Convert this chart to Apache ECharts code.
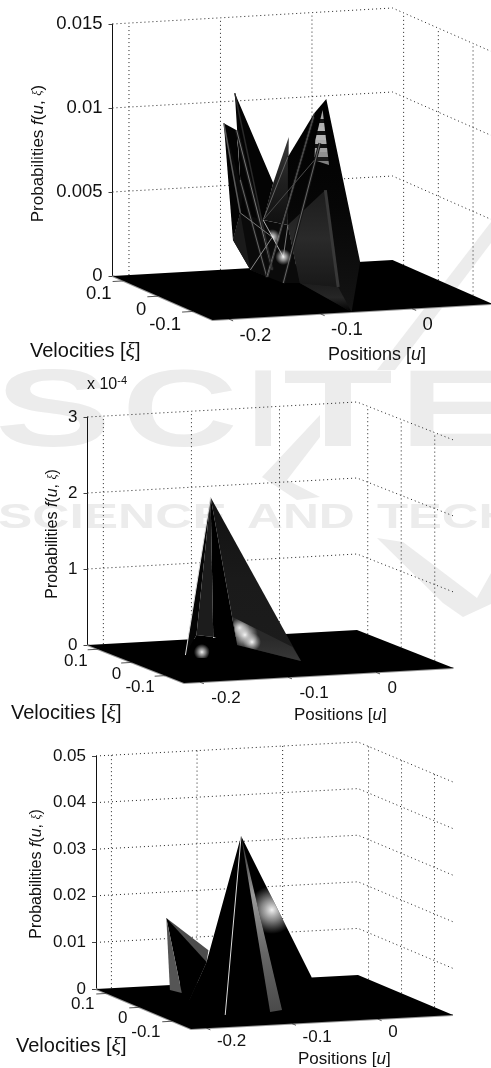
<!DOCTYPE html>
<html>
<head>
<meta charset="utf-8">
<style>html,body{margin:0;padding:0;background:#fff}#c{width:491px;height:1068px}</style>
<script src="https://cdn.jsdelivr.net/npm/echarts@6/dist/echarts.min.js"></script>
</head>
<body>
<div id="c"></div>
<script>
// ---------- data: [u, xi, f] ----------
var uRange = [-0.218, 0.088];
var xiRange = [-0.156, 0.132];
var uTicks = [-0.2, -0.1, 0];
var xiTicks = [0.1, 0, -0.1];
var fMaxes = [0.015, 0.0003, 0.05];
var fSteps = [0.005, 0.0001, 0.01];

var p1Points = [
  [-.139,-.012,.01195],[-.151,-.012,.0102],[-.039,-.012,.01129],[-.052,-.012,.01049],
  [-.080,-.012,.00915],[-.097,-.012,.00647],[-.130,-.012,.00597],[-.133,-.012,.0048],
  [-.141,-.012,.00321],[-.122,-.012,.00137],[-.103,-.012,.00089],[-.086,-.012,.00048],
  [-.002,-.012,.00147],[-.066,-.156,0],[-.046,-.012,.00869],[-.040,-.012,.00587],
  [-.026,-.012,.00006],[-.081,-.012,.00796],[-.108,-.012,.0043],[-.137,-.012,.00974],
  [-.098,-.012,.00129],[-.133,-.012,.00676],[-.104,-.012,.00089],[-.053,-.012,.01026],
  [-.043,-.012,.01064],[-.036,-.012,.00735],[-.052,-.012,.00769],[-.051,-.012,.00888],
  [-.068,-.012,.00042],[-.081,-.012,.00392],[-.098,-.012,.00325],[-.086,-.012,.00203]
];
var p2Points = [
  [-.133,-.012,.000214],[-.046,-.053,0],[-.069,.077,0],[-.146,.029,0],
  [-.127,.046,.0000222],[-.130,-.012,.0000299],[-.131,.001,0],[-.146,.007,0],
  [-.097,.017,.0000489],[-.040,-.012,.0000109],[-.083,.017,.0000245],[-.122,.043,0],
  [-.089,.017,.0000341],[-.075,.017,.0000147]
];
var p3Points = [
  [-.104,-.012,.036],[.034,.132,0],[-.077,-.066,0],[-.094,-.074,0],
  [-.148,-.078,0],[-.148,.030,0],[-.139,.077,0],[-.144,.100,0],
  [-.147,.103,.0154],[-.109,.074,.009],[-.122,.046,.0074],[-.068,-.012,.0198]
];
var p1Faces = [[4,29,18,5],[1,19,21,7,8],[0,5,9,8,7,21],[1,6,7],[7,8,9,10,30],[18,29,28,11,10,9,7],[2,12,13,28,29,17,3],[24,25,26,27],[15,16,28,29],[28,16,13]];
var p2Faces = [[0,1,2],[0,2,5],[0,3,4],[0,4,5],[3,4,5,6,7],[8,9,1,2]];
var p3Faces = [[8,9,10,5],[8,10,5,6],[8,6,7],[0,1,2,3,4,5,10],[0,3,2]];
var p1Edges = [[15,16],[19,20],[19,20],[21,22],[21,22],[23,22],[23,22],[14,11],[14,11],[17,18],[0,20],[18,31],[9,30],[7,30],[3,10],[1,7],[29,31],[26,18]];
var p2Edges = [[0,3]];
var p3Edges = [[0,4]];
var p1Glows = [[18,29,31,30],[30,29,28,11,10]];
var p2Glows = [[8,9,1,2],[8,9,1,2],[8,9,1,2],[3,4,5,6,7]];
var p3Glows = [[0,1,2]];
var p1GlowCentres = [30,31];
var p2GlowCentres = [12,10,13,11];
var p3GlowCentres = [11];

// ---------- styles ----------
var stripes = [];
(function(){ var c=['#a0a0a0','#a8a8a8','#141414','#b0b0b0','#b4b4b4','#111','#b4b4b4','#aaa','#111','#a0a0a0','#909090','#1a1a1a','#808080'];
  c.forEach(function(col,i){ stripes.push({offset:i/c.length,color:col}); stripes.push({offset:(i+1)/c.length,color:col}); }); })();
function vgrad(a){ return new echarts.graphic.LinearGradient(0,0,0,1,a.map(function(c,i){return {offset:i/(a.length-1),color:c};})); }
var p1Fills = [vgrad(['#3a3a3a','#202020','#101010']),'#030303','#040404','#0a0a0a','#1a1a1a','#0a0a0a',vgrad(['#000','#060606','#141414']),new echarts.graphic.LinearGradient(0,0,0,1,stripes),vgrad(['#1c1c1c','#2a2a2a','#181818']),vgrad(['#1c1c1c','#262626','#000'])];
var p2Fills = [vgrad(['#111','#1a1a1a','#1c1c1c']),'#000','#050505','#1c1c1c','#000',vgrad(['#2a2a2a','#2a2a2a','#383838'])];
var p3Fills = ['#4c4c4c','#000','#555','#000',vgrad(['#222','#9a9a9a','#666','#4a4a4a'])];
var p1EdgeStyles = [['#383838',3],['#161616',3.5],['#777',1],['#161616',3],['#666',1],['#161616',3],['#808080',0.8],['#161616',3],['#666',1],['#666',1],['#2a2a2a',1.5],['#aaa',1],['#888',1],['#777',1],['#444',1],['#5a5a5a',1.5],['#777',1],['#4a4a4a',1]];
var p2EdgeStyles = [['#ddd',1]];
var p3EdgeStyles = [['#ddd',1]];
var p1GlowR = [8,8], p2GlowR = [10,13,9,8], p3GlowR = [24];

var panels = [
 {grid:[112.5,24,280,252], v:[100,44], rise:-16, pts:p1Points, faces:p1Faces, fills:p1Fills, edges:p1Edges, eStyles:p1EdgeStyles, glows:p1Glows, gc:p1GlowCentres, gr:p1GlowR, font:18.5, uOff:[10.5,16.5], xiOff:[-12,13.5]},
 {grid:[87.5,417,269.5,228], v:[96.5,38], rise:-15, pts:p2Points, faces:p2Faces, fills:p2Fills, edges:p2Edges, eStyles:p2EdgeStyles, glows:p2Glows, gc:p2GlowCentres, gr:p2GlowR, font:17, uOff:[11.5,15.7], xiOff:[-10.5,12], fmt:function(v){return String(Math.round(v*1e4));}},
 {grid:[96,756,262,233], v:[95,40], rise:-14, pts:p3Points, faces:p3Faces, fills:p3Fills, edges:p3Edges, eStyles:p3EdgeStyles, glows:p3Glows, gc:p3GlowCentres, gr:p3GlowR, font:17, uOff:[10.5,13.5], xiOff:[-12,11]}
];
var FONT = '"Liberation Sans", Arial, sans-serif';
var uMin=uRange[0],uMax=uRange[1],xMin=xiRange[0],xMax=xiRange[1];

// skewed oblique projection of (u, xi, f) onto the panel's two axes
function toAxes(p,i,q){
  var g=p.grid,s=(q[0]-uMin)/(uMax-uMin),t=(xMax-q[1])/(xMax-xMin),fm=fMaxes[i];
  return [q[0]+p.v[0]*t/g[2]*(uMax-uMin), q[2]-fm*(p.rise*s+p.v[1]*t)/g[3]];
}
function custom(i,name,z,count,fn){
  return {type:'custom',name:name,xAxisIndex:i,yAxisIndex:i,z:z,silent:true,coordinateSystem:'cartesian2d',
    data:Array.apply(null,Array(count)).map(function(_,k){return [k];}),
    encode:{x:[],y:[]},
    renderItem:function(params,api){ return fn(params.dataIndex,api); }};
}
function poly(api,p,i,list){ return list.map(function(q){ return api.coord(toAxes(p,i,q)); }); }
function seg(a,style){ return {type:'line',shape:{x1:a[0][0],y1:a[0][1],x2:a[1][0],y2:a[1][1]},style:style}; }

var grids=[],xAxes=[],yAxes=[],series=[];
panels.forEach(function(p,i){
  grids.push({left:p.grid[0],top:p.grid[1],width:p.grid[2],height:p.grid[3],containLabel:false});
  xAxes.push({gridIndex:i,type:'value',min:uMin,max:uMax,show:false});
  yAxes.push({gridIndex:i,type:'value',min:0,max:fMaxes[i],interval:fSteps[i],
    axisLine:{show:true,onZero:false,lineStyle:{color:'#111',width:1}},
    axisTick:{show:true,length:4,lineStyle:{color:'#444'}},
    splitLine:{show:false},
    axisLabel:{show:true,margin:10,fontFamily:FONT,fontSize:p.font,color:'#111',padding:[0,0,5,0],
      formatter:p.fmt||function(v){return String(parseFloat(v.toFixed(4)));}}});

  // dotted back walls
  var zLevels=[]; for(var k=0;k<=Math.round(fMaxes[i]/fSteps[i]);k++) zLevels.push(k*fSteps[i]);
  var wallLines=[];
  zLevels.forEach(function(z){ if(z>0) wallLines.push([[uMin,xMax,z],[uMax,xMax,z],[uMax,xMin,z]]); });
  uTicks.forEach(function(u){ wallLines.push([[u,xMax,0],[u,xMax,fMaxes[i]]]); });
  xiTicks.forEach(function(x){ wallLines.push([[uMax,x,0],[uMax,x,fMaxes[i]]]); });
  series.push(custom(i,'walls',2,wallLines.length,function(k,api){
    return {type:'polyline',shape:{points:poly(api,p,i,wallLines[k])},
      style:{fill:null,stroke:'#222',lineWidth:1,lineDash:[1,3]}};
  }));

  // floor sheet, its pale rim and ticks
  series.push(custom(i,'floor',3,1,function(k,api){
    var c=[[uMin,xMax,0],[uMax,xMax,0],[uMax,xMin,0],[uMin,xMin,0]];
    var kids=[];
    kids.push({type:'polyline',shape:{points:poly(api,p,i,[c[0],c[3],c[2]])},style:{fill:null,stroke:'#999',lineWidth:2}});
    uTicks.forEach(function(u){ kids.push(seg(poly(api,p,i,[[u,xMin,0],[u,xMin-0.012,0]]),{stroke:'#555',lineWidth:1})); });
    xiTicks.forEach(function(x){ kids.push(seg(poly(api,p,i,[[uMin,x,0],[uMin-0.012,x,0]]),{stroke:'#555',lineWidth:1})); });
    kids.push({type:'polygon',shape:{points:poly(api,p,i,c)},style:{fill:'#000'}});
    return {type:'group',children:kids};
  }));

  // surface facets
  series.push(custom(i,'facets',4,p.faces.length,function(k,api){
    var pts=poly(api,p,i,p.faces[k].map(function(n){return p.pts[n];}));
    return {type:'polygon',shape:{points:pts},style:{fill:p.fills[k],stroke:null}};
  }));
  // thin edges of the mesh
  series.push(custom(i,'edges',5,p.edges.length,function(k,api){
    var a=poly(api,p,i,p.edges[k].map(function(n){return p.pts[n];}));
    return seg(a,{stroke:p.eStyles[k][0],lineWidth:p.eStyles[k][1]});
  }));
  // specular glows on facets
  series.push(custom(i,'glows',6,p.glows.length,function(k,api){
    var pts=poly(api,p,i,p.glows[k].map(function(n){return p.pts[n];}));
    var c=api.coord(toAxes(p,i,p.pts[p.gc[k]]));
    return {type:'polygon',shape:{points:pts},style:{fill:new echarts.graphic.RadialGradient(c[0],c[1],p.gr[k],[
      {offset:0,color:'rgba(255,255,255,0.95)'},{offset:.45,color:'rgba(220,220,220,0.6)'},{offset:1,color:'rgba(200,200,200,0)'}],true)}};
  }));
  // tick labels on the two floor edges
  series.push(custom(i,'uLabels',7,uTicks.length,function(k,api){
    var a=api.coord(toAxes(p,i,[uTicks[k],xMin,0]));
    return {type:'text',style:{x:a[0]+p.uOff[0],y:a[1]+p.uOff[1],text:String(uTicks[k]),fill:'#111',font:p.font+'px '+FONT,align:'left',verticalAlign:'middle'}};
  }));
  series.push(custom(i,'xiLabels',7,xiTicks.length,function(k,api){
    var a=api.coord(toAxes(p,i,[uMin,xiTicks[k],0]));
    return {type:'text',style:{x:a[0]+p.xiOff[0],y:a[1]+p.xiOff[1],text:String(xiTicks[k]),fill:'#111',font:p.font+'px '+FONT,align:'right',verticalAlign:'middle'}};
  }));
});

// ---------- titles ----------
function probRich(fs){ return {
  t:{fontFamily:FONT,fontSize:fs,fill:'#111'},
  i:{fontFamily:FONT,fontSize:fs,fontStyle:'italic',fill:'#111'},
  x:{fontFamily:'"Liberation Serif",serif',fontSize:fs*0.72,fontStyle:'italic',fill:'#111'} }; }
function velRich(fs){ return {
  t:{fontFamily:FONT,fontSize:fs,fill:'#111'},
  x:{fontFamily:'"Liberation Serif",serif',fontSize:fs*1.1,fontStyle:'italic',fill:'#111'} }; }
function posRich(fs){ return {
  t:{fontFamily:FONT,fontSize:fs,fill:'#111'},
  i:{fontFamily:FONT,fontSize:fs,fontStyle:'italic',fill:'#111'} }; }
var probText='{t|Probabilities }{i|f}{t|(}{i|u}{t|, }{x|\u03BE}{t|)}';
var velText='{t|Velocities [}{x|\u03BE}{t|]}';
var posText='{t|Positions [}{i|u}{t|]}';
function label(x,y,text,rich,rot,align){
  return {type:'text',x:x,y:y,rotation:rot||0,z:20,silent:true,style:{text:text,rich:rich,align:align||'left',verticalAlign:'middle'}};
}
var gray='#ececec';
function wm(x,y,t,fs,sx){ return {type:'text',x:x,y:y,scaleX:sx,z:-5,silent:true,style:{text:t,fill:gray,font:'bold '+fs+'px '+FONT,align:'left',verticalAlign:'middle'}}; }
function wmPoly(pts){ return {type:'polygon',z:-5,silent:true,shape:{points:pts},style:{fill:gray}}; }
var graphics=[
  wm(-5,416,'S',109,1.6), wm(122,416,'C',109,1.47), wm(248,416,'I',109,1), wm(283,416,'T',109,1.65), wm(400,416,'E',109,1.45),
  wm(-2,518,'SCIENCE',35,1.47), wm(247,518,'AND',35,1.42), wm(377,518,'TECH',35,1.45),
  wmPoly([[320,415],[320,437],[287,480],[320,497],[297,500],[262,477]]),
  wmPoly([[377,538],[403,542],[477,598],[491,573],[491,604],[463,617],[443,603]]),
  wmPoly([[491,222],[491,243],[395,370],[377,370]]),
  label(38,153.5,probText,probRich(17),Math.PI/2,'center'),
  label(53,534,probText,probRich(16),Math.PI/2,'center'),
  label(37,874,probText,probRich(16),Math.PI/2,'center'),
  label(30,351,velText,velRich(20)),
  label(11,713,velText,velRich(20)),
  label(16,1046,velText,velRich(20)),
  label(328,355,posText,posRich(18)),
  label(294,715,posText,posRich(17)),
  label(298,1059,posText,posRich(17)),
  {type:'text',x:87,y:385,z:20,silent:true,style:{text:'{a|x 10}{b|-4}',align:'left',verticalAlign:'middle',rich:{a:{fontFamily:FONT,fontSize:16,fill:'#111'},b:{fontFamily:FONT,fontSize:11,fill:'#111',verticalAlign:'top',padding:[0,0,8,0]}}}}
];

var chart=echarts.init(document.getElementById('c'),null,{renderer:'canvas',width:491,height:1068});
chart.setOption({animation:false,backgroundColor:'#fff',grid:grids,xAxis:xAxes,yAxis:yAxes,series:series,graphic:graphics,tooltip:{show:false}});
</script>
</body>
</html>
